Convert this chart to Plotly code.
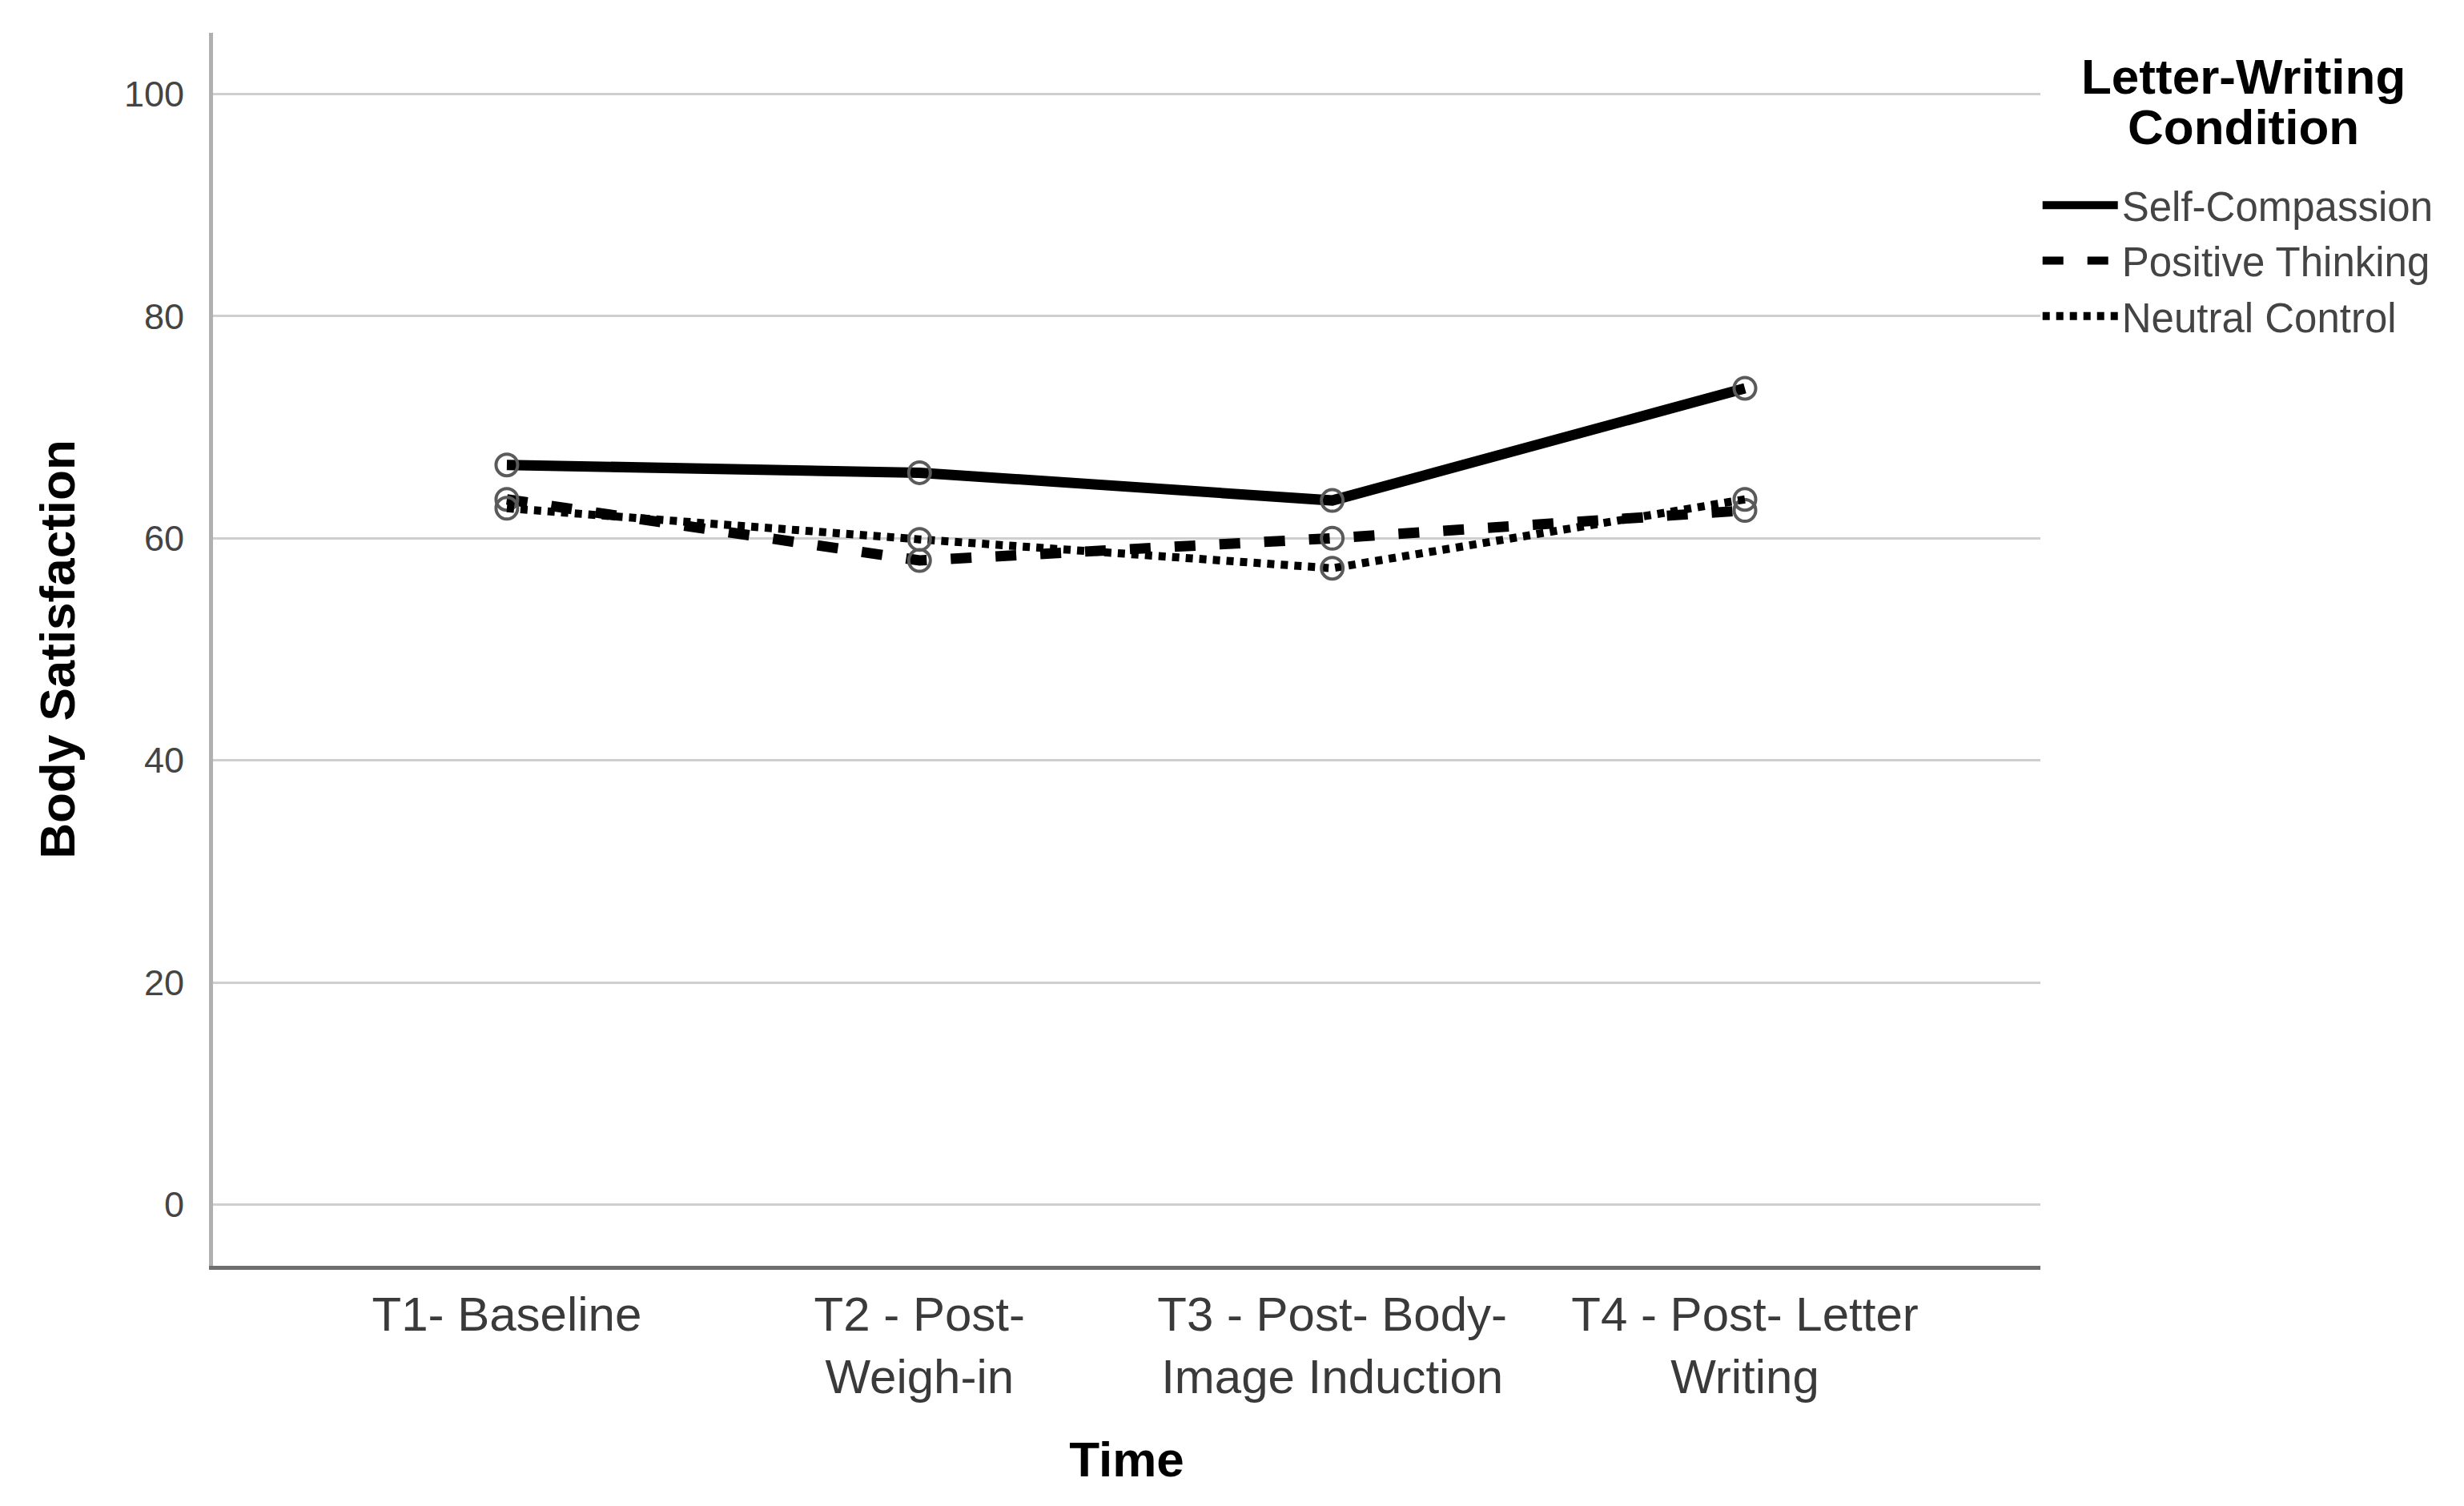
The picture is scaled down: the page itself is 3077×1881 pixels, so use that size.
import plotly.graph_objects as go

# ---- data ----
time_points = [
    "T1- Baseline",
    "T2 - Post-<br>Weigh-in",
    "T3 - Post- Body-<br>Image Induction",
    "T4 - Post- Letter<br>Writing",
]
conditions = ["Self-Compassion", "Positive Thinking", "Neutral Control"]
self_compassion = [66.6, 65.9, 63.4, 73.5]
positive_thinking = [63.5, 58.0, 60.0, 62.5]
neutral_control = [62.7, 59.9, 57.3, 63.5]
y_ticks = [0, 20, 40, 60, 80, 100]
legend_title_lines = ["Letter-Writing", "Condition"]

series = [self_compassion, positive_thinking, neutral_control]
dashes = ["solid", "26px,30px", "9px,8px"]
widths = [13, 13, 10]

FONT = "Liberation Sans"

fig = go.Figure()
for name, vals, dash, w in zip(conditions, series, dashes, widths):
    fig.add_trace(go.Scatter(
        x=time_points, y=vals, name=name, mode="lines+markers",
        line=dict(color="black", width=w, dash=dash),
        marker=dict(symbol="circle-open", size=27, color="#5a5a5a",
                    line=dict(width=4)),
        showlegend=False,
    ))
    # legend entry (line sample only)
    fig.add_trace(go.Scatter(
        x=[None], y=[None], name=name, mode="lines",
        line=dict(color="black", width=w, dash=dash),
        showlegend=True,
    ))

fig.update_layout(
    width=3077, height=1881, autosize=False,
    paper_bgcolor="white", plot_bgcolor="white",
    margin=dict(l=258, r=537, t=33, b=308),
    font=dict(family=FONT, color="#3a3a3a"),
    legend=dict(
        x=0.999, y=0.886, xanchor="left", yanchor="top",
        bgcolor="rgba(0,0,0,0)",
        font=dict(size=51, color="#444444", family=FONT),
        itemwidth=94,
        tracegroupgap=0,
    ),
)

# legend title (two tightly spaced lines, centred over the legend entries)
for i, line in enumerate(legend_title_lines):
    fig.add_annotation(
        text="<b>%s</b>" % line, xref="paper", yref="paper",
        x=1.1113, y=0.9645 - i * 0.041, xanchor="center", yanchor="middle",
        showarrow=False, font=dict(size=62, color="black", family=FONT),
    )

fig.update_xaxes(
    type="category", categoryorder="array", categoryarray=time_points,
    range=[-0.712, 3.716],
    showgrid=False, zeroline=False,
    showline=True, linecolor="#6e6e6e", linewidth=5,
    ticks="", ticklabelstandoff=4,
    tickfont=dict(size=60, color="#3a3a3a", family=FONT),
    title=dict(text="<b>Time</b>", font=dict(size=62, color="black", family=FONT),
               standoff=50),
)

fig.update_yaxes(
    range=[-5.5, 105.5], tickvals=y_ticks,
    showgrid=True, gridcolor="#cfcfcf", gridwidth=3,
    zeroline=False,
    showline=True, linecolor="#b0b0b0", linewidth=5,
    ticks="", ticklabelstandoff=22,
    tickfont=dict(size=45, color="#444444", family=FONT),
    title=dict(text="<b>Body Satisfaction</b>",
               font=dict(size=62, color="black", family=FONT), standoff=43),
)

fig.write_html("out.html")
